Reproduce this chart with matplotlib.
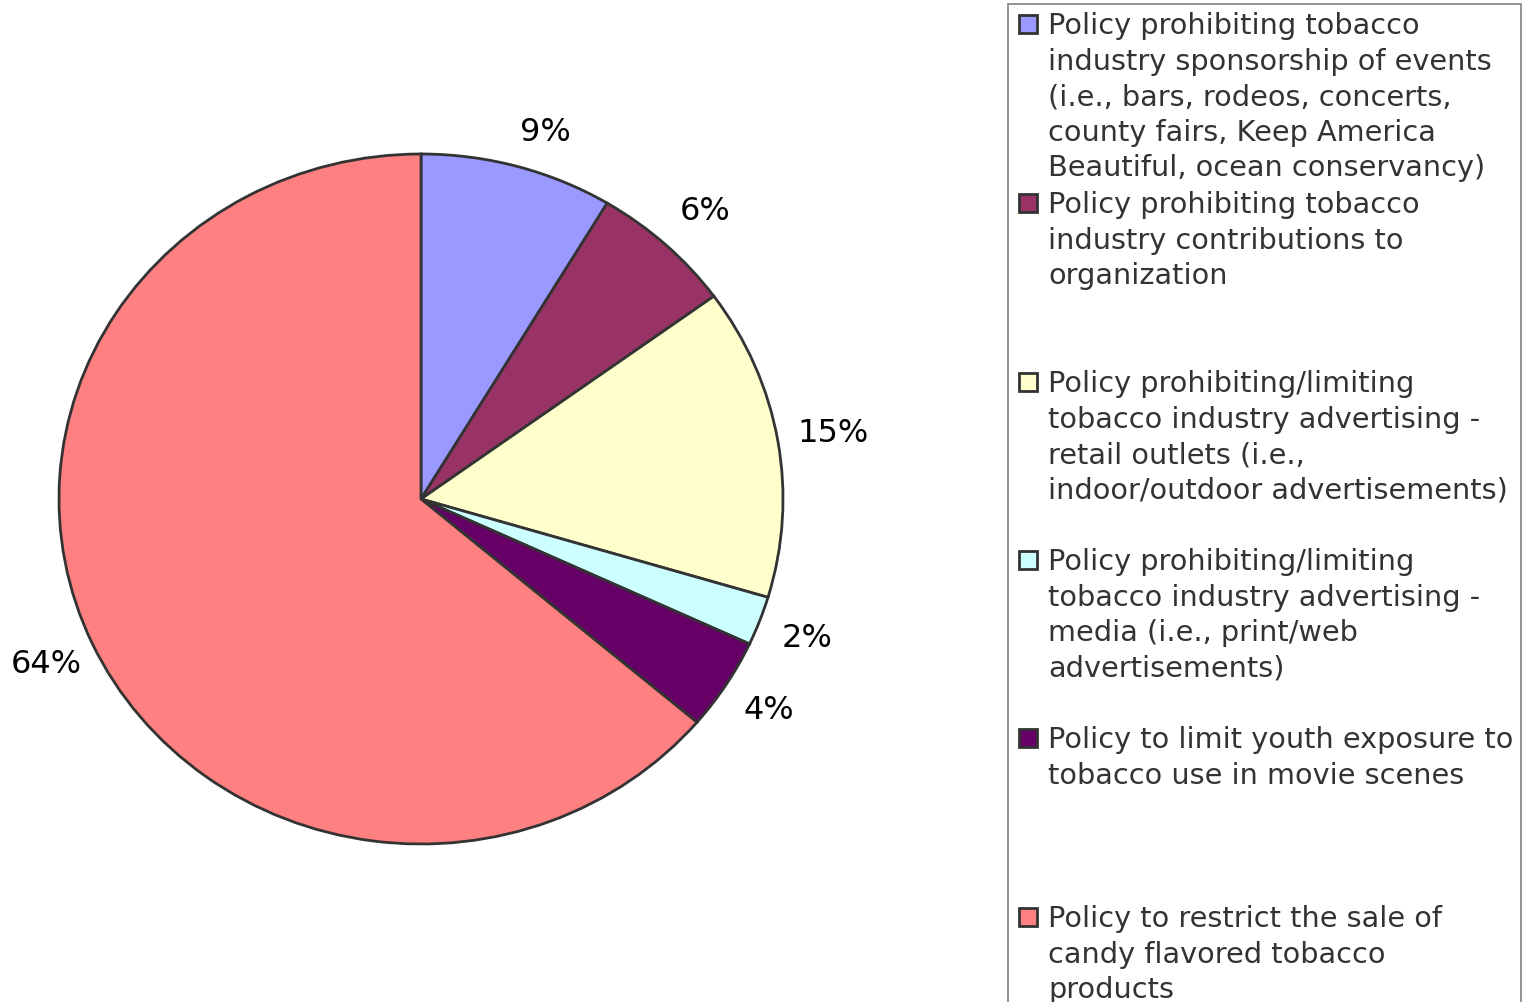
import matplotlib
matplotlib.use("Agg")
import matplotlib.pyplot as plt
from matplotlib.patches import Rectangle
from matplotlib.transforms import offset_copy

# =========================
# DATOS
# =========================

categories = [
    "Policy prohibiting tobacco\nindustry sponsorship of events\n(i.e., bars, rodeos, concerts,\ncounty fairs, Keep America\nBeautiful, ocean conservancy)",
    "Policy prohibiting tobacco\nindustry contributions to\norganization",
    "Policy prohibiting/limiting\ntobacco industry advertising -\nretail outlets (i.e.,\nindoor/outdoor advertisements)",
    "Policy prohibiting/limiting\ntobacco industry advertising -\nmedia (i.e., print/web\nadvertisements)",
    "Policy to limit youth exposure to\ntobacco use in movie scenes",
    "Policy to restrict the sale of\ncandy flavored tobacco\nproducts",
]
shares = [8.6, 6.4, 14.6, 2.3, 4.3, 63.8]
colors = ["#9999FF", "#993366", "#FFFFCC", "#CCFFFF", "#660066", "#FF8080"]

W, H = 1532, 1002
EDGE = "#333333"

fig = plt.figure(figsize=(W / 100, H / 100), dpi=100)

# pie axes (ligeramente elíptica, como el original)
cx, cy, rx, ry = 421, 499, 362, 345
ax = fig.add_axes([(cx - rx) / W, (H - cy - ry) / H, 2 * rx / W, 2 * ry / H])
wedges, texts, autotexts = ax.pie(
    shares,
    colors=colors,
    startangle=90,
    counterclock=False,
    autopct=lambda p: f"{p:.0f}%",
    pctdistance=1.14,
    wedgeprops=dict(edgecolor=EDGE, linewidth=2),
    textprops=dict(fontsize=23, color="black", family="DejaVu Sans"),
)
ax.set_aspect("auto")
ax.set_xlim(-1, 1)
ax.set_ylim(-1, 1)
ax.axis("off")

# pequeños ajustes de etiquetas (posición estilo Excel)
nudges = {0: (10, -9), 1: (4, -2), 2: (4, -1)}
for i, (dx, dy) in nudges.items():
    t = autotexts[i]
    t.set_transform(offset_copy(t.get_transform(), fig=fig, x=dx, y=dy, units="points"))

# =========================
# LEYENDA (manual, estilo Excel)
# =========================

box = Rectangle((1008 / W, -0.05), (1521 - 1008) / W, (H - 4) / H + 0.05,
                transform=fig.transFigure, facecolor="white",
                edgecolor="#808080", linewidth=1.2, zorder=0)
fig.patches.append(box)

entry_top = [14, 193, 372, 550, 728, 907]
for label, col, top in zip(categories, colors, entry_top):
    fig.patches.append(Rectangle((1019 / W, (H - top - 19) / H), 18 / W, 18 / H,
                                 transform=fig.transFigure, facecolor=col,
                                 edgecolor=EDGE, linewidth=2))
    fig.text(1048 / W, (H - top + 2) / H, label, ha="left", va="top",
             fontsize=20.7, color="#333333", family="DejaVu Sans",
             linespacing=1.345)

fig.savefig("out.png", dpi=100)
